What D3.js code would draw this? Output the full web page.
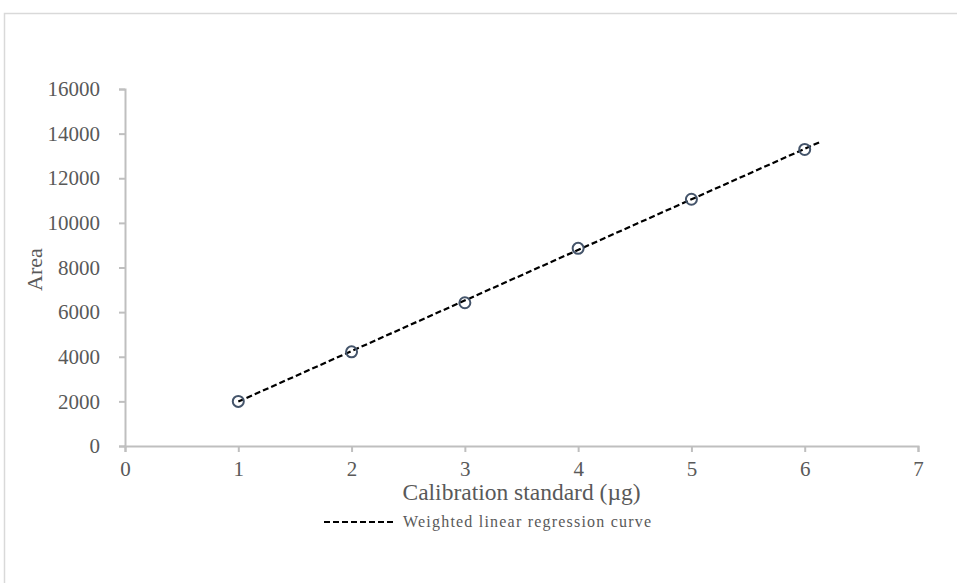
<!DOCTYPE html>
<html>
<head>
<meta charset="utf-8">
<script src="https://cdnjs.cloudflare.com/ajax/libs/d3/7.8.5/d3.min.js"></script>
<style>
  body { margin: 0; background: #fff; }
  .axis path, .axis line { stroke: #bfbfbf; stroke-width: 2; }
</style>
</head>
<body>
<div id="chart"></div>
<script>
// calibration points (ug, area)
var standards = [1, 2, 3, 4, 5, 6];
var areas = [2000, 4220, 6420, 8860, 11060, 13290];
// fitted weighted regression line, start and end points
var fitX = [1, 6.15];
var fitY = [1990, 13660];
var xTicks = [0, 1, 2, 3, 4, 5, 6, 7];
var yTicks = [0, 2000, 4000, 6000, 8000, 10000, 12000, 14000, 16000];

var W = 957, H = 583;
var serif = "'Liberation Serif', 'Times New Roman', serif";
var grey = "#595959";

var svg = d3.select("#chart").append("svg").attr("width", W).attr("height", H);

// outer chart frame
svg.append("rect")
    .attr("x", 4.5).attr("y", 13.5)
    .attr("width", W + 10).attr("height", H + 10)
    .attr("fill", "none").attr("stroke", "#d9d9d9").attr("stroke-width", 1.5);

var x = d3.scaleLinear().domain([0, 7]).range([125, 918]);
var y = d3.scaleLinear().domain([0, 16000]).range([446, 89]);

function styleAxis(g) {
    g.attr("font-family", serif).attr("font-size", 21);
    g.selectAll("text").attr("fill", grey);
}

svg.append("g").attr("class", "axis")
    .attr("transform", "translate(0," + y(0) + ")")
    .call(d3.axisBottom(x).tickValues(xTicks).tickSize(6).tickSizeOuter(6).tickPadding(9).tickFormat(d3.format("d")))
    .call(styleAxis);

svg.append("g").attr("class", "axis")
    .attr("transform", "translate(" + x(0) + ",0)")
    .call(d3.axisLeft(y).tickValues(yTicks).tickSize(6).tickSizeOuter(6).tickPadding(19).tickFormat(d3.format("d")))
    .call(styleAxis);

// regression line
var fit = fitX.map(function (d, i) { return { x: d, y: fitY[i] }; });
svg.append("path")
    .datum(fit)
    .attr("fill", "none")
    .attr("stroke", "#000")
    .attr("stroke-width", 2.2)
    .attr("stroke-dasharray", "6,3")
    .attr("d", d3.line().x(function (d) { return x(d.x); }).y(function (d) { return y(d.y); }));

// points
svg.selectAll(".pt")
    .data(standards)
    .enter()
    .append("circle")
    .attr("class", "pt")
    .attr("cx", function (d) { return x(d); })
    .attr("cy", function (d, i) { return y(areas[i]); })
    .attr("r", 5.5)
    .attr("fill", "none")
    .attr("stroke", "#44546a")
    .attr("stroke-width", 2);

// axis titles
svg.append("text")
    .attr("transform", "translate(42," + (y(8000) + 2) + ") rotate(-90)")
    .attr("text-anchor", "middle")
    .attr("font-family", serif).attr("font-size", 22).attr("fill", grey)
    .text("Area");

svg.append("text")
    .attr("x", (x(0) + x(7)) / 2)
    .attr("y", 500)
    .attr("text-anchor", "middle")
    .attr("font-family", serif).attr("font-size", 23.5).attr("fill", grey)
    .text("Calibration standard (\u00b5g)");

// legend
svg.append("line")
    .attr("x1", 324).attr("x2", 396)
    .attr("y1", 522).attr("y2", 522)
    .attr("stroke", "#000").attr("stroke-width", 2.2)
    .attr("stroke-dasharray", "6,3");

svg.append("text")
    .attr("x", 403).attr("y", 527)
    .attr("font-family", serif).attr("font-size", 16).attr("fill", grey)
    .attr("textLength", 248).attr("lengthAdjust", "spacing")
    .text("Weighted linear regression curve");
</script>
</body>
</html>
